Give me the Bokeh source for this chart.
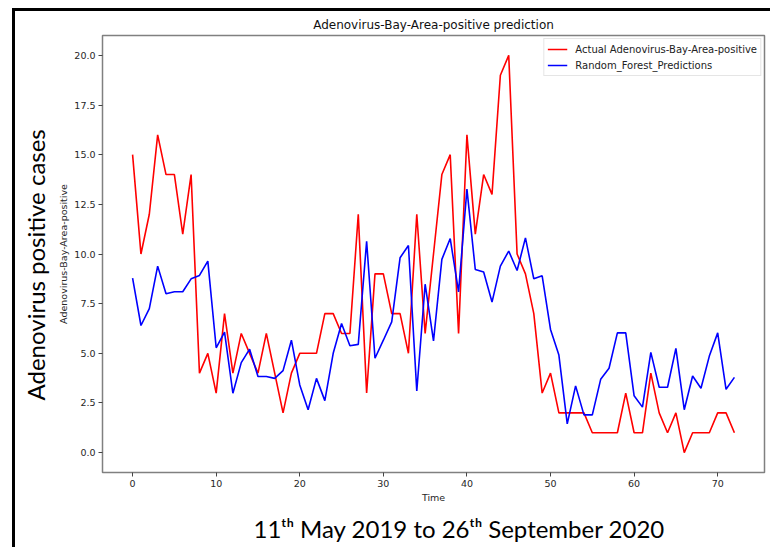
import math
from bokeh.plotting import figure
from bokeh.models import Legend, LegendItem, Title, FixedTicker, PrintfTickFormatter, Range1d
from bokeh.embed import file_html
from bokeh.resources import INLINE

# ---- data ----
time_index = list(range(73))
actual = [15, 10, 12, 16, 14, 14, 11, 14, 4, 5,
          3, 7, 4, 6, 5, 4, 6, 4, 2, 4,
          5, 5, 5, 7, 7, 6, 6, 12, 3, 9,
          9, 7, 7, 5, 12, 6, 10, 14, 15, 6,
          16, 11, 14, 13, 19, 20, 10, 9, 7, 3,
          4, 2, 2, 2, 2, 1, 1, 1, 1, 3,
          1, 1, 4, 2, 1, 2, 0, 1, 1, 1,
          2, 2, 1]
predicted = [8.79, 6.4, 7.25, 9.39, 8.0, 8.1, 8.1, 8.75, 8.92, 9.64,
             5.28, 6.07, 2.99, 4.53, 5.21, 3.83, 3.83, 3.74, 4.13, 5.66,
             3.41, 2.16, 3.74, 2.62, 5.0, 6.5, 5.38, 5.45, 10.64, 4.75,
             5.66, 6.58, 9.81, 10.43, 3.1, 8.48, 5.63, 9.73, 10.78, 8.09,
             13.27, 9.22, 9.09, 7.58, 9.39, 10.15, 9.17, 10.81, 8.75, 8.9,
             6.2, 4.91, 1.45, 3.36, 1.9, 1.9, 3.69, 4.25, 6.03, 6.03,
             2.86, 2.29, 5.05, 3.29, 3.29, 5.25, 2.16, 3.86, 3.24, 4.86,
             6.03, 3.19, 3.79]
x_ticks = [0, 10, 20, 30, 40, 50, 60, 70]
y_ticks = [0, 2.5, 5, 7.5, 10, 12.5, 15, 17.5, 20]

series_labels = ["Actual Adenovirus-Bay-Area-positive", "Random_Forest_Predictions"]
title_text = "Adenovirus-Bay-Area-positive prediction"
x_label = "Time"
y_label = "Adenovirus-Bay-Area-positive"
side_text = "Adenovirus positive cases"
date_text = "11\u1d57\u02b0 May 2019 to 26\u1d57\u02b0 September 2020"

p = figure(width=758, height=539, output_backend="svg", toolbar_location=None,
           x_range=Range1d(-3.6, 75.6), y_range=Range1d(-1, 21),
           min_border_left=87, min_border_right=9, min_border_top=24, min_border_bottom=78)
p.styles = {"border-top": "3px solid black", "border-left": "3px solid black",
            "margin-left": "12px", "margin-top": "8px"}
p.background_fill_color = "white"
p.border_fill_color = "white"
p.outline_line_color = "#808080"
p.outline_line_width = 1.5
p.xgrid.visible = False
p.ygrid.visible = False

r1 = p.line(time_index, actual, line_color="#ff0000", line_width=1.6)
r2 = p.line(time_index, predicted, line_color="#0000ff", line_width=1.6)

legend = Legend(items=[LegendItem(label=series_labels[0], renderers=[r1]),
                       LegendItem(label=series_labels[1], renderers=[r2])],
                location="top_right")
legend.label_text_font = "DejaVu Sans"
legend.label_text_font_size = "10px"
legend.label_text_color = "#222222"
legend.glyph_width = 20
legend.glyph_height = 14
legend.label_height = 14
legend.label_standoff = 8
legend.spacing = 2
legend.padding = 3
legend.margin = 3
legend.border_line_color = "#cccccc"
legend.border_line_width = 1
legend.background_fill_alpha = 0.9
p.add_layout(legend)

p.title.text = title_text
p.title.align = "center"
p.title.text_font = "DejaVu Sans"
p.title.text_font_style = "normal"
p.title.text_font_size = "12px"
p.title.text_color = "#111111"
p.title.text_line_height = 0.6
p.title.standoff = 7

p.xaxis.ticker = FixedTicker(ticks=x_ticks)
p.yaxis.ticker = FixedTicker(ticks=y_ticks)
p.yaxis.formatter = PrintfTickFormatter(format="%.1f")
p.xaxis.axis_label = x_label
p.yaxis.axis_label = y_label
for ax in (p.xaxis[0], p.yaxis[0]):
    ax.axis_line_color = None
    ax.major_tick_line_color = "#444444"
    ax.major_tick_out = 4
    ax.major_tick_in = 0
    ax.minor_tick_line_color = None
    ax.major_label_text_font = "DejaVu Sans"
    ax.major_label_text_font_size = "9.5px"
    ax.major_label_text_color = "#262626"
    ax.major_label_standoff = 3
    ax.axis_label_text_font = "DejaVu Sans"
    ax.axis_label_text_font_style = "normal"
    ax.axis_label_text_font_size = "9.5px"
    ax.axis_label_text_color = "#262626"
    ax.axis_label_standoff = 2

# big rotated side caption
side_title = Title(text=side_text, align="left", vertical_align="top", offset=72, standoff=8,
                   text_font="Lato", text_font_size="24px", text_font_style="normal",
                   text_color="#000000")
p.add_layout(side_title, "left")

# bottom date caption
date_title = Title(text=date_text, align="left", offset=151, standoff=12,
                   text_font="Lato, DejaVu Sans", text_font_size="24px", text_font_style="normal",
                   text_color="#000000")
p.add_layout(date_title, "below")

open("out.html", "w").write(file_html(p, INLINE))
